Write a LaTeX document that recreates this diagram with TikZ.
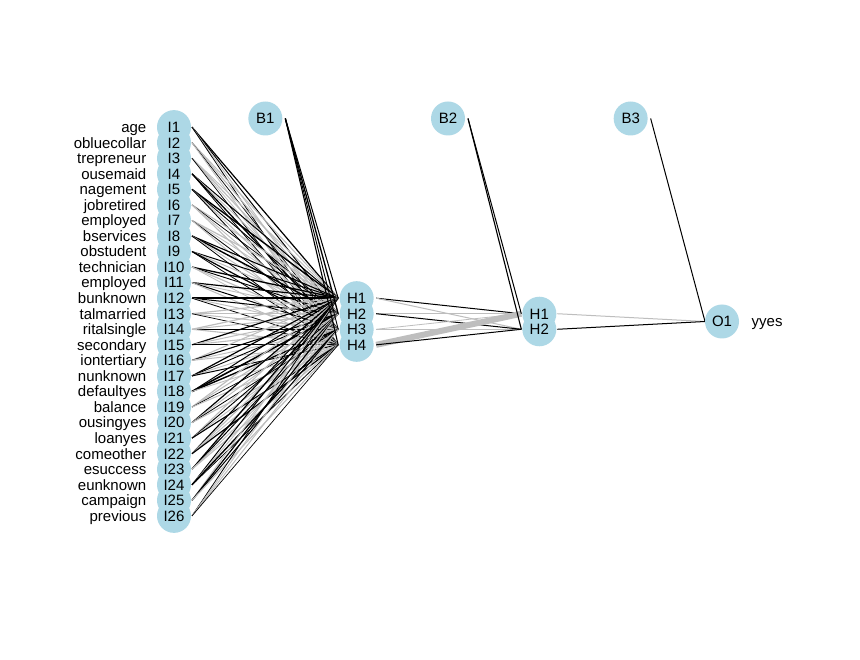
\documentclass[tikz,border=0pt]{standalone}
\usepackage{fontspec}
\setmainfont{Liberation Sans}
\definecolor{nodeblue}{HTML}{ADD8E6}
\definecolor{negcol}{RGB}{190,190,190}
\pgfdeclarelayer{bglayer}
\pgfdeclarelayer{linelayer}
\pgfsetlayers{bglayer,linelayer,main}
\tikzset{
 nn/.style={circle, fill=nodeblue, minimum size=34pt, inner sep=0pt, draw=none},
 ntext/.style={inner sep=0pt, text=black, text height=10.75pt, text depth=0pt, font=\fontsize{15}{15}\selectfont},
 lpos/.style={draw=black},
 lneg/.style={draw=negcol},
}
\newcommand\inl[9]{%
 \draw[#2,line width=#3pt] ([xshift=18pt]I#1.center) -- ([xshift=-18.5pt]HA1.center);
 \draw[#4,line width=#5pt] ([xshift=18pt]I#1.center) -- ([xshift=-18.5pt]HA2.center);
 \draw[#6,line width=#7pt] ([xshift=18pt]I#1.center) -- ([xshift=-18.5pt]HA3.center);
 \draw[#8,line width=#9pt] ([xshift=18pt]I#1.center) -- ([xshift=-18.5pt]HA4.center);
}
\begin{document}
\begin{tikzpicture}[x=1pt,y=-1pt]
\useasboundingbox (0,0) rectangle (860,660);
\begin{pgfonlayer}{bglayer}
\fill[white] (0,0) rectangle (860,660);
\end{pgfonlayer}
% nodes
\foreach \i in {1,...,26} \node[nn] (I\i) at (174,{321.5+(\i-13.5)*15.55}) {};
\foreach \j in {1,...,4} \node[nn] (HA\j) at (356.67,{321.5+(\j-2.5)*15.55}) {};
\foreach \j in {1,2} \node[nn] (HB\j) at (539.33,{321.5+(\j-1.5)*15.55}) {};
\node[nn] (O1) at (722,321.5) {};
\node[nn] (B1) at (265.33,118.5) {};
\node[nn] (B2) at (448,118.5) {};
\node[nn] (B3) at (630.67,118.5) {};
% node texts
\foreach \i in {1,...,26} \node[ntext] (tI\i) at (I\i) {I\i};
\foreach \j in {1,...,4} \node[ntext] (tHA\j) at (HA\j) {H\j};
\foreach \j in {1,2} \node[ntext] (tHB\j) at (HB\j) {H\j};
\node[ntext] (tO1) at (O1) {O1};
\node[ntext] (tB1) at (B1) {B1};
\node[ntext] (tB2) at (B2) {B2};
\node[ntext] (tB3) at (B3) {B3};
\node[ntext, anchor=west] (yyes) at (751.5,321.5) {yyes};
% input labels
\foreach \i/\t in {1/age,2/obluecollar,3/trepreneur,4/ousemaid,5/nagement,6/jobretired,7/employed,8/bservices,9/obstudent,10/technician,11/employed,12/bunknown,13/talmarried,14/ritalsingle,15/secondary,16/iontertiary,17/nunknown,18/defaultyes,19/balance,20/ousingyes,21/loanyes,22/comeother,23/esuccess,24/eunknown,25/campaign,26/previous}
  \node[ntext, anchor=east] (L\i) at (146.5,{321.5+(\i-13.5)*15.55}) {\t};
% connections
\begin{pgfonlayer}{linelayer}
\inl{1}{lpos}{1.2}{lpos}{1.0}{lneg}{0.9}{lpos}{0.8}
\inl{2}{lneg}{1.0}{lneg}{1.1}{lpos}{0.7}{lneg}{0.9}
\inl{3}{lneg}{0.9}{lneg}{1.2}{lneg}{0.8}{lpos}{0.7}
\inl{4}{lpos}{1.0}{lneg}{0.9}{lpos}{1.3}{lpos}{0.8}
\inl{5}{lpos}{1.4}{lpos}{0.9}{lneg}{1.0}{lpos}{0.9}
\inl{6}{lneg}{1.1}{lpos}{0.7}{lneg}{0.9}{lneg}{1.1}
\inl{7}{lneg}{1.2}{lneg}{0.8}{lpos}{0.8}{lneg}{1.0}
\inl{8}{lpos}{1.1}{lpos}{1.4}{lneg}{0.9}{lpos}{0.8}
\inl{9}{lpos}{1.0}{lneg}{1.0}{lpos}{1.2}{lpos}{0.8}
\inl{10}{lpos}{1.3}{lpos}{0.9}{lneg}{1.1}{lneg}{0.8}
\inl{11}{lpos}{1.2}{lneg}{0.9}{lpos}{1.0}{lneg}{1.0}
\inl{12}{lpos}{1.4}{lpos}{1.0}{lneg}{0.9}{lpos}{0.8}
\inl{13}{lneg}{1.2}{lneg}{1.1}{lneg}{1.0}{lpos}{0.7}
\inl{14}{lneg}{1.2}{lneg}{1.0}{lpos}{0.8}{lneg}{1.1}
\inl{15}{lpos}{1.2}{lneg}{1.0}{lneg}{1.1}{lpos}{0.8}
\inl{16}{lneg}{1.1}{lpos}{1.1}{lneg}{0.9}{lneg}{1.0}
\inl{17}{lpos}{1.2}{lpos}{0.9}{lneg}{0.9}{lpos}{1.0}
\inl{18}{lpos}{1.0}{lpos}{1.6}{lpos}{1.4}{lneg}{0.9}
\inl{19}{lneg}{1.2}{lneg}{1.1}{lpos}{0.7}{lneg}{1.0}
\inl{20}{lpos}{1.2}{lneg}{1.0}{lpos}{0.8}{lneg}{1.1}
\inl{21}{lneg}{1.1}{lpos}{0.9}{lneg}{0.9}{lpos}{1.1}
\inl{22}{lpos}{1.1}{lneg}{1.1}{lneg}{0.9}{lpos}{1.2}
\inl{23}{lpos}{1.3}{lpos}{1.0}{lneg}{1.0}{lneg}{1.1}
\inl{24}{lpos}{1.0}{lneg}{0.9}{lpos}{1.4}{lpos}{0.8}
\inl{25}{lneg}{1.0}{lpos}{1.2}{lpos}{1.0}{lneg}{1.1}
\inl{26}{lpos}{0.8}{lneg}{0.9}{lneg}{1.0}{lpos}{0.7}
% bias 1
\foreach \j/\w in {1/1.0,2/1.3,3/0.9,4/1.1}
  \draw[lpos,line width=\w pt] ([xshift=20pt]B1.center) -- ([xshift=-18.5pt]HA\j.center);
% hidden 1 -> hidden 2
\draw[lpos,line width=1pt] ([xshift=19.5pt]HA1.center) -- ([xshift=-18pt]HB1.center);
\draw[lneg,line width=1pt] ([xshift=19.5pt]HA1.center) -- ([xshift=-18pt]HB2.center);
\draw[lneg,line width=1pt] ([xshift=19.5pt]HA2.center) -- ([xshift=-18pt]HB1.center);
\draw[lpos,line width=1pt] ([xshift=19.5pt]HA2.center) -- ([xshift=-18pt]HB2.center);
\draw[lneg,line width=0.8pt] ([xshift=19.5pt]HA3.center) -- ([xshift=-18pt]HB1.center);
\draw[lneg,line width=1pt] ([xshift=19.5pt]HA3.center) -- ([xshift=-18pt]HB2.center);
\draw[lneg,line width=6pt] ([xshift=19.5pt]HA4.center) -- ([xshift=-18pt]HB1.center);
\draw[lpos,line width=1pt] ([xshift=19.5pt]HA4.center) -- ([xshift=-18pt]HB2.center);
% bias 2
\draw[lpos,line width=1pt] ([xshift=20pt]B2.center) -- ([xshift=-18pt]HB1.center);
\draw[lpos,line width=1.1pt] ([xshift=20pt]B2.center) -- ([xshift=-18pt]HB2.center);
% hidden 2 -> output
\draw[lneg,line width=1pt] ([xshift=18pt]HB1.center) -- ([xshift=-17pt]O1.center);
\draw[lpos,line width=1pt] ([xshift=18pt]HB2.center) -- ([xshift=-17pt]O1.center);
% bias 3
\draw[lpos,line width=1pt] ([xshift=20pt]B3.center) -- ([xshift=-17pt]O1.center);
\end{pgfonlayer}
\end{tikzpicture}
\end{document}
